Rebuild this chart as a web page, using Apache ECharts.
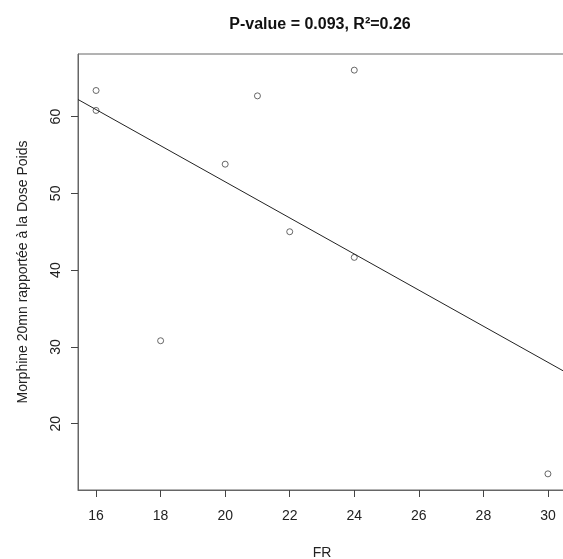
<!DOCTYPE html>
<html>
<head>
<meta charset="utf-8">
<script src="https://cdn.jsdelivr.net/npm/echarts@6/dist/echarts.min.js"></script>
<style>
html,body{margin:0;padding:0;background:#fff;}
#chart{width:563px;height:559px;}
</style>
</head>
<body>
<div id="chart"></div>
<script>
// Data
const frValues = [16, 16, 18, 20, 21, 22, 24, 24, 30];
const morphineValues = [63.4, 60.8, 30.8, 53.8, 62.7, 45.0, 66.05, 41.66, 13.46];
const xTicks = [16, 18, 20, 22, 24, 26, 28, 30];
const yTicks = [20, 30, 40, 50, 60];
const titleText = 'P-value = 0.093, R\u00B2=0.26';
const xName = 'FR';
const yName = 'Morphine 20mn rapportée à la Dose Poids';

// Axis limits like R (data range extended by 4%)
function ext(arr) {
  const mn = Math.min(...arr), mx = Math.max(...arr), r = mx - mn;
  return [mn - 0.04 * r, mx + 0.04 * r];
}
const [xMin, xMax] = ext(frValues);
const [yMin, yMax] = ext(morphineValues);

// Least-squares fit line (as abline(lm(...)))
const n = frValues.length;
const mx = frValues.reduce((a, b) => a + b, 0) / n;
const my = morphineValues.reduce((a, b) => a + b, 0) / n;
let sxy = 0, sxx = 0;
for (let i = 0; i < n; i++) {
  sxy += (frValues[i] - mx) * (morphineValues[i] - my);
  sxx += (frValues[i] - mx) * (frValues[i] - mx);
}
const slope = sxy / sxx;
const intercept = my - slope * mx;
const fitLine = [[xMin, intercept + slope * xMin], [xMax, intercept + slope * xMax]];

const chart = echarts.init(document.getElementById('chart'), null, {renderer: 'canvas'});
const font = 'Liberation Sans, Arial, Helvetica, sans-serif';
chart.setOption({
  animation: false,
  backgroundColor: '#ffffff',
  title: {
    text: titleText,
    left: 320,
    textAlign: 'center',
    top: 17,
    padding: 0,
    textStyle: {fontFamily: font, fontSize: 16, fontWeight: 'bold', color: '#111'}
  },
  grid: {
    left: 78, top: 54, width: 488, height: 436,
    show: true, borderColor: '#666', borderWidth: 1,
    containLabel: false, outerBoundsMode: 'none'
  },
  xAxis: {
    type: 'value', min: xMin, max: xMax,
    name: xName, nameLocation: 'middle', nameGap: 56,
    nameTextStyle: {fontFamily: font, fontSize: 14, color: '#222'},
    axisLine: {show: true, onZero: false, lineStyle: {color: '#666', width: 1}},
    axisTick: {show: true, length: 7, customValues: xTicks, lineStyle: {color: '#444'}},
    axisLabel: {customValues: xTicks, fontFamily: font, fontSize: 14, color: '#222', margin: 19},
    splitLine: {show: false}
  },
  yAxis: {
    type: 'value', min: yMin, max: yMax,
    name: yName, nameLocation: 'middle', nameGap: 48,
    nameTextStyle: {fontFamily: font, fontSize: 14, color: '#222'},
    axisLine: {show: true, onZero: false, lineStyle: {color: '#666', width: 1}},
    axisTick: {show: true, length: 7, customValues: yTicks, lineStyle: {color: '#444'}},
    axisLabel: {customValues: yTicks, rotate: 90, fontFamily: font, fontSize: 14, color: '#222', margin: 15},
    splitLine: {show: false}
  },
  series: [
    {type: 'line', data: fitLine, symbol: 'none', clip: true, lineStyle: {color: '#222', width: 1}, silent: true},
    {type: 'scatter', data: frValues.map((x, i) => [x, morphineValues[i]]), symbol: 'circle', symbolSize: 6,
      itemStyle: {color: 'rgba(0,0,0,0)', borderColor: '#444', borderWidth: 1}}
  ]
});
</script>
</body>
</html>
